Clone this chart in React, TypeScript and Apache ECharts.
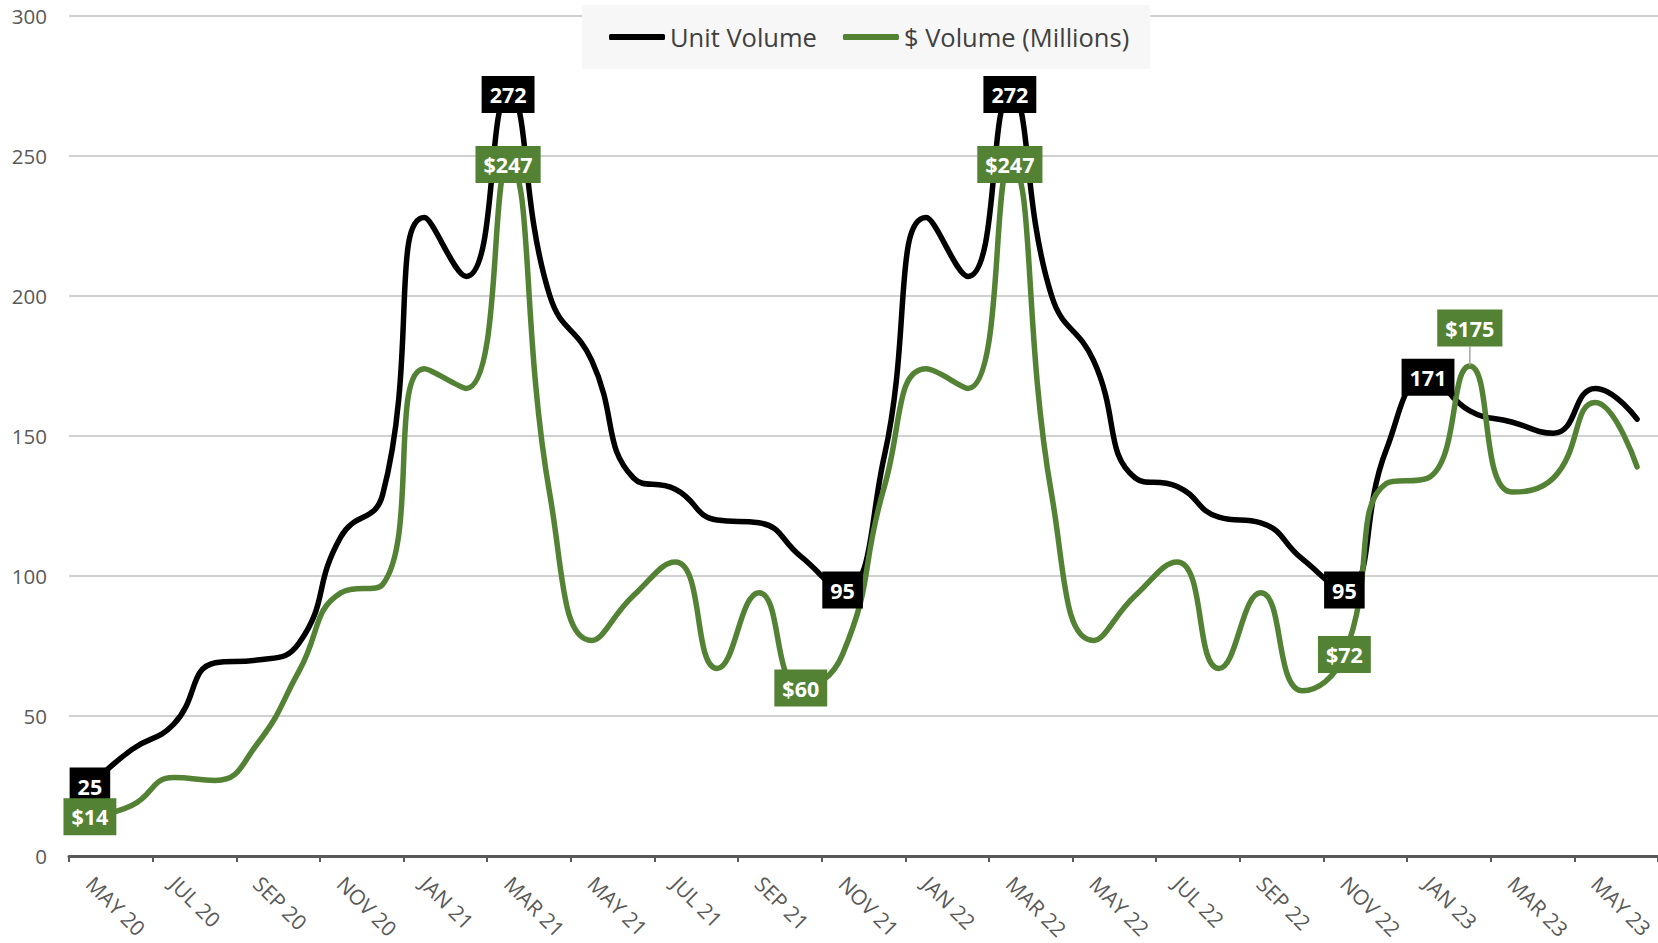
import React, { useEffect, useRef } from "react";
import * as echarts from "echarts";

// Monthly axis, May 2020 – Jun 2023
const months = [
  "MAY 20", "JUN 20", "JUL 20", "AUG 20", "SEP 20", "OCT 20", "NOV 20", "DEC 20",
  "JAN 21", "FEB 21", "MAR 21", "APR 21", "MAY 21", "JUN 21", "JUL 21", "AUG 21",
  "SEP 21", "OCT 21", "NOV 21", "DEC 21",
  "JAN 22", "FEB 22", "MAR 22", "APR 22", "MAY 22", "JUN 22", "JUL 22", "AUG 22",
  "SEP 22", "OCT 22", "NOV 22", "DEC 22",
  "JAN 23", "FEB 23", "MAR 23", "APR 23", "MAY 23", "JUN 23",
];

const unitVolume = [
  25, 38, 47, 69, 70, 76, 114, 129,
  228, 207, 272, 200, 177, 135, 131, 120, 119, 107, 95, 143,
  228, 207, 272, 200, 177, 135, 132, 121, 119, 106, 95, 145,
  171, 159, 155, 151, 167, 156,
];

const dollarVolume = [
  14, 18, 28, 27, 40, 66, 94, 97,
  174, 167, 247, 129, 77, 93, 105, 67, 94, 60, 72, 132,
  174, 167, 247, 129, 77, 93, 105, 67, 94, 59, 72, 133,
  135, 175, 130, 135, 162, 139,
];

// Points that carry a value callout
const unitLabelIdx = [0, 10, 18, 22, 30, 32];
const dollarLabelIdx = [0, 10, 17, 22, 30, 33];
// Callout lifted above its point with a leader line
const liftedDollarIdx = 33;

const FONT = "'Open Sans', 'Noto Sans', sans-serif";
const BLACK = "#000000";
const GREEN = "#548235";
const AXIS_GRAY = "#595959";

function calloutLabel(bg: string, prefix: string) {
  return {
    show: true,
    position: "inside",
    formatter: (p: any) => `${prefix}${p.value}`,
    color: "#ffffff",
    backgroundColor: bg,
    fontFamily: FONT,
    fontWeight: "bold",
    fontSize: 21.5,
    lineHeight: 24,
    padding: [7, 8, 6, 8],
  };
}

function buildData(values: number[], labelIdx: number[], bg: string, prefix: string) {
  return values.map((v, i) => {
    if (!labelIdx.includes(i)) return { value: v };
    return { value: v, label: calloutLabel(bg, prefix) };
  });
}

export default function App() {
  const ref = useRef<HTMLDivElement>(null);

  useEffect(() => {
    if (!ref.current) return;
    const chart = echarts.init(ref.current, undefined, { renderer: "svg" });

    const dollarData: any[] = buildData(dollarVolume, dollarLabelIdx, GREEN, "$");
    dollarData[liftedDollarIdx] = {
      ...dollarData[liftedDollarIdx],
      labelLine: { show: true, lineStyle: { color: "#a6a6a6", width: 1.5 } },
    };

    chart.setOption({
      animation: false,
      backgroundColor: "#ffffff",
      textStyle: { fontFamily: FONT },
      grid: { left: 69, right: -11, top: 16, bottom: 87, containLabel: false },
      legend: {
        left: 582,
        top: 5,
        padding: [17, 21, 17, 27],
        backgroundColor: "#f7f7f7",
        itemWidth: 56,
        itemHeight: 6,
        itemGap: 26,
        icon: "roundRect",
        textStyle: { fontFamily: FONT, fontSize: 25.5, color: "#404040", lineHeight: 30 },
        data: [
          { name: "Unit Volume", itemStyle: { color: BLACK } },
          { name: "$ Volume (Millions)", itemStyle: { color: GREEN } },
        ],
      },
      xAxis: {
        type: "category",
        data: months,
        boundaryGap: true,
        axisLine: { lineStyle: { color: AXIS_GRAY, width: 3 } },
        axisTick: { show: true, interval: 1, length: 6, lineStyle: { color: AXIS_GRAY, width: 2 } },
        axisLabel: {
          interval: 1,
          rotate: -45,
          margin: 24,
          fontSize: 21,
          fontFamily: FONT,
          color: AXIS_GRAY,
        },
        splitLine: { show: false },
      },
      yAxis: {
        type: "value",
        min: 0,
        max: 300,
        interval: 50,
        axisLine: { show: false },
        axisTick: { show: false },
        axisLabel: { fontSize: 20.5, fontFamily: FONT, color: AXIS_GRAY, margin: 22 },
        splitLine: { lineStyle: { color: "#c0c0c0", width: 1.5 } },
      },
      series: [
        {
          name: "Unit Volume",
          type: "line",
          smooth: 0.5,
          showSymbol: true,
          symbol: "circle",
          symbolSize: 1,
          itemStyle: { color: BLACK },
          lineStyle: { color: BLACK, width: 5.5, cap: "round", join: "round" },
          data: buildData(unitVolume, unitLabelIdx, BLACK, ""),
          z: 3,
        },
        {
          name: "$ Volume (Millions)",
          type: "line",
          smooth: 0.5,
          showSymbol: true,
          symbol: "circle",
          symbolSize: 1,
          itemStyle: { color: GREEN },
          lineStyle: { color: GREEN, width: 5.5, cap: "round", join: "round" },
          data: dollarData,
          labelLayout: (params: any) =>
            params.dataIndex === liftedDollarIdx ? { dy: -38 } : {},
          z: 3,
        },
      ],
    });

    return () => chart.dispose();
  }, []);

  return (
    <div
      ref={ref}
      style={{ position: "fixed", left: 0, top: 0, width: 1658, height: 943 }}
    />
  );
}
